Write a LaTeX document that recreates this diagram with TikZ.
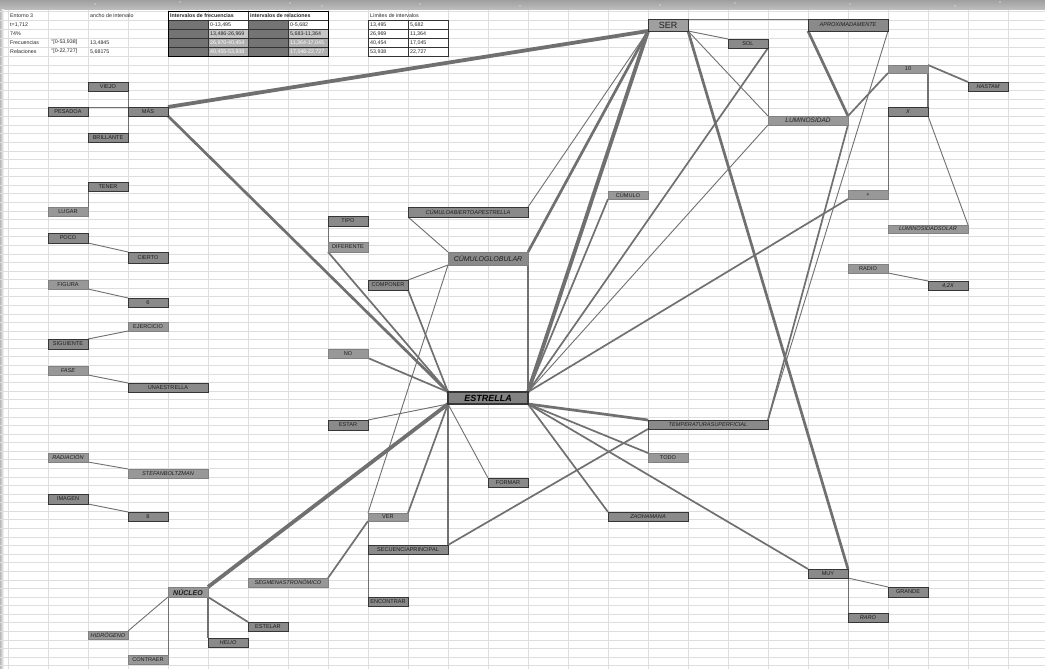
\documentclass[tikz,border=0pt]{standalone}
\usepackage{fontspec}
\setmainfont{Liberation Sans}
\definecolor{lc}{HTML}{707070}
\definecolor{bxf}{HTML}{8A8A8A}
\definecolor{bxl}{HTML}{989898}
\definecolor{bxd}{HTML}{363636}
\definecolor{tx}{HTML}{1E1E1E}
\definecolor{gridc}{HTML}{DEDEDE}
\definecolor{swc}{HTML}{747474}
\newcommand\bxfont{\fontsize{5.6}{5.8}\selectfont}
\newcommand\tbfont{\fontsize{5.3}{5.5}\selectfont}
\newcommand\bx[7]{\node[#6, minimum width={#4-#2}, minimum height={#5-#3}] (#1) at ({(#2+#4)/2},{(#3+#5)/2}) {#7};}
\newcommand\tcn[4]{\node[tcell,#4] (#1) at (#2) {#3};}
\pgfdeclarelayer{gridl}\pgfdeclarelayer{edgel}
\pgfsetlayers{gridl,edgel,main}
\tikzset{
  dk/.style={draw=bxd, line width=0.9pt, fill=bxf, inner sep=0pt, outer sep=0pt, font=\bxfont, text=tx, text depth=0pt},
  lt/.style={draw=bxl!85!black, line width=0.4pt, fill=bxl, inner sep=0pt, outer sep=0pt, font=\bxfont, text=tx, text depth=0pt},
  e1/.style={draw=lc, line width=0.9pt},
  e2/.style={draw=lc, line width=1.7pt},
  e3/.style={draw=lc, line width=2.7pt},
  e4/.style={draw=lc, line width=3.8pt},
  tcell/.style={anchor=west, inner sep=0pt, font=\tbfont, text=black!85},
}
\begin{document}
\begin{tikzpicture}[x=1pt,y=-1pt]
\useasboundingbox (0,0) rectangle (1045,669);
% ---------- background sheet ----------
\begin{pgfonlayer}{gridl}
\fill[white] (0,0) rectangle (1045,669);
\fill[top color=gray!75, bottom color=gray!50] (0,0) rectangle (1045,10);
\foreach \p in {(95,4),(290,3),(322,6),(520,6),(660,5),(735,3),(850,4),(955,6),(1000,2),(180,2),(420,4)}
  \fill[white] \p circle (0.7);
\fill[left color=gray!55, right color=white] (0,10) rectangle (4,669);
\foreach \i in {0,...,26} \draw[gridc,line width=0.5pt] ({8+40*\i},10) -- ({8+40*\i},669);
\foreach \y in {11,20,29,38,47,56} \draw[gridc,line width=0.5pt] (0,\y) -- (1045,\y);
\foreach \k in {0,...,70} \draw[gridc,line width=0.5pt] (0,{65+8.58*\k}) -- (1045,{65+8.58*\k});
\end{pgfonlayer}
% ---------- table ----------
\fill[swc] (168,20) rectangle (208,56);
\fill[swc] (248,20) rectangle (288,56);
\fill[white] (208,20) rectangle (248,29);
\fill[white] (288,20) rectangle (328,29);
\fill[gray!45] (208,29) rectangle (248,38);
\fill[gray!45] (288,29) rectangle (328,38);
\fill[gray!62] (208,38) rectangle (248,56);
\fill[gray!62] (288,38) rectangle (328,56);
\draw[black!80,line width=0.4pt] (168,20) -- (328,20) (168,29) -- (328,29) (168,38) -- (328,38) (168,47) -- (328,47)
  (208,20) -- (208,56) (248,11) -- (248,56) (288,20) -- (288,56);
\draw[black,line width=0.9pt] (168,11) rectangle (328,56);
\foreach \y in {20,29,38,47} \draw[black!80,line width=0.5pt] (368,\y) rectangle (448,{\y+9}) (408,\y) -- (408,{\y+9});
\tcn{ta1}{10,15.5}{Entorno 3}{}
\tcn{ta2}{10,24.5}{t=1,712}{}
\tcn{ta3}{10,33.5}{74\%}{}
\tcn{ta4}{10,42.5}{Frecuencias}{}
\tcn{ta5}{10,51.5}{Relaciones}{}
\tcn{tb4}{51,42.5}{°[0-53,938]}{}
\tcn{tb5}{51,51.5}{°[0-22,727]}{}
\tcn{tc1}{90,15.5}{ancho de intervalo}{}
\tcn{tc4}{90,42.5}{13,4845}{}
\tcn{tc5}{90,51.5}{5,68175}{}
\tcn{th1}{170,15.5}{\bfseries Intervalos de frecuencias}{}
\tcn{th2}{250,15.5}{\bfseries intervalos de relaciones}{}
\tcn{tf2}{210,24.5}{0-13,495}{}
\tcn{tf3}{210,33.5}{13,486-26,969}{}
\tcn{tf4}{210,42.5}{26,970-40,454}{text=white}
\tcn{tf5}{210,51.5}{40,455-53,938}{text=white}
\tcn{tr2}{290,24.5}{0-5,682}{}
\tcn{tr3}{290,33.5}{5,683-11,364}{}
\tcn{tr4}{290,42.5}{11,364-17,045}{text=white}
\tcn{tr5}{290,51.5}{17,046-22,727}{text=white}
\tcn{tl1}{370,15.5}{Límites de intervalos}{}
\tcn{tl2}{370,24.5}{13,495}{}
\tcn{tl3}{370,33.5}{26,969}{}
\tcn{tl4}{370,42.5}{40,454}{}
\tcn{tl5}{370,51.5}{53,938}{}
\tcn{tm2}{410,24.5}{5,682}{}
\tcn{tm3}{410,33.5}{11,364}{}
\tcn{tm4}{410,42.5}{17,045}{}
\tcn{tm5}{410,51.5}{22,727}{}
% ---------- nodes ----------
\bx{viejo}{88}{82}{128}{91}{dk}{VIEJO}
\bx{pesadoa}{48}{107}{88}{116}{dk}{PESADOA}
\bx{mas}{128}{107}{168}{116}{dk}{MÁS}
\bx{brillante}{88}{133}{128}{142}{dk}{BRILLANTE}
\bx{tener}{88}{182}{128}{191}{dk}{TENER}
\bx{lugar}{48}{207}{88}{216}{lt}{LUGAR}
\bx{poco}{48}{233}{88}{243}{dk}{POCO}
\bx{cierto}{128}{252}{168}{263}{dk}{CIERTO}
\bx{figura}{48}{280}{88}{289}{lt}{FIGURA}
\bx{seis}{128}{298}{168}{307}{dk}{6}
\bx{ejercicio}{128}{322}{168}{331}{lt}{EJERCICIO}
\bx{siguiente}{48}{339}{88}{349}{dk}{SIGUIENTE}
\bx{fase}{48}{366}{88}{375}{lt}{\itshape FASE}
\bx{unaestrella}{128}{383}{208}{392}{dk}{UNAESTRELLA}
\bx{radiacion}{48}{453}{88}{462}{lt}{\itshape RADIACIÓN}
\bx{stefan}{128}{469}{208}{478}{lt}{\itshape STEFANBOLTZMAN}
\bx{imagen}{48}{494}{88}{504}{dk}{IMAGEN}
\bx{ocho}{128}{512}{168}{521}{dk}{8}
\bx{nucleo}{168}{587}{208}{597}{lt,font={\fontsize{7}{7}\selectfont\bfseries\itshape}}{NÚCLEO}
\bx{hidrogeno}{88}{631}{128}{639}{lt}{\itshape HIDRÓGENO}
\bx{contraer}{128}{655}{168}{664}{lt}{CONTRAER}
\bx{helio}{208}{638}{248}{647}{dk}{\itshape HELIO}
\bx{estelar}{248}{622}{288}{631}{dk}{ESTELAR}
\bx{segmen}{248}{578}{328}{587}{lt}{\itshape SEGMENASTRONÓMICO}
\bx{encontrar}{368}{597}{408}{606}{dk}{ENCONTRAR}
\bx{ver}{368}{513}{408}{521}{lt}{VER}
\bx{secuencia}{368}{545}{448}{554}{dk}{SECUENCIAPRINCIPAL}
\bx{formar}{488}{478}{528}{487}{dk}{FORMAR}
\bx{estar}{328}{420}{368}{430}{dk}{ESTAR}
\bx{no}{328}{349}{368}{358}{lt}{NO}
\bx{tipo}{328}{216}{368}{226}{dk}{TIPO}
\bx{diferente}{328}{242}{368}{252}{lt}{DIFERENTE}
\bx{componer}{368}{280}{408}{290}{dk}{COMPONER}
\bx{cabierto}{408}{207}{528}{217}{dk}{\itshape CÚMULOABIERTOAPESTRELLA}
\bx{cglobular}{448}{252}{528}{265}{lt,fill=bxf,font={\fontsize{7}{7}\selectfont\itshape}}{CÚMULOGLOBULAR}
\bx{estrella}{448}{392}{528}{404}{dk,fill=gray!60!black!70,line width=1.1pt,font={\fontsize{9}{9}\selectfont\bfseries\itshape},text=black}{ESTRELLA}
\bx{cumulo}{608}{191}{648}{199}{lt}{CÚMULO}
\bx{zao}{608}{512}{688}{521}{dk}{\itshape ZAOHAMANA}
\bx{temp}{648}{420}{768}{429}{dk}{\itshape TEMPERATURASUPERFICIAL}
\bx{todo}{648}{453}{688}{462}{lt}{TODO}
\bx{muy}{808}{569}{848}{578}{dk}{MUY}
\bx{grande}{888}{587}{928}{597}{dk}{GRANDE}
\bx{raro}{848}{613}{888}{622}{dk}{\itshape RARO}
\bx{ser}{648}{19}{688}{31}{dk,fill=gray!75!black!60,font={\fontsize{9}{9}\selectfont}}{SER}
\bx{sol}{728}{39}{768}{48}{dk}{SOL}
\bx{aprox}{808}{19}{888}{31}{dk}{\itshape APROXIMADAMENTE}
\bx{diez}{888}{65}{928}{73}{lt}{10}
\bx{hastam}{968}{82}{1008}{91}{dk}{\itshape HASTAM}
\bx{equis}{888}{107}{928}{116}{dk}{\itshape X}
\bx{lumin}{768}{116}{848}{125}{lt,font={\fontsize{6.5}{6.5}\selectfont\itshape}}{LUMINOSIDAD}
\bx{masdos}{848}{190}{888}{199}{lt}{+}
\bx{lumsolar}{888}{225}{968}{233}{lt}{\itshape LUMINOSIDADSOLAR}
\bx{radio}{848}{264}{888}{273}{lt}{RADIO}
\bx{cuatro}{928}{281}{968}{290}{dk}{\itshape 4,2X}
% ---------- connectors ----------
\begin{pgfonlayer}{edgel}
\draw[e4] (mas.north east) -- (ser.south west);
\draw[e3] (mas.south east) -- (estrella.north west);
\draw[e1] (viejo.south east) -- (mas.north west);
\draw[e1] (pesadoa.north east) -- (mas.north west);
\draw[e1] (brillante.north east) -- (mas.south west);
\draw[e1] (tener.south west) -- (lugar.north east);
\draw[e1] (poco.south east) -- (cierto.north west);
\draw[e1] (figura.south east) -- (seis.north west);
\draw[e1] (siguiente.north east) -- (ejercicio.south west);
\draw[e1] (fase.south east) -- (unaestrella.north west);
\draw[e1] (radiacion.south east) -- (stefan.north west);
\draw[e1] (imagen.south east) -- (ocho.north west);
\draw[e4] (nucleo.north east) -- (estrella.south west);
\draw[e1] (nucleo.south west) -- (hidrogeno.north east);
\draw[e1] (nucleo.south west) -- (contraer.north east);
\draw[e2] (nucleo.south east) -- (helio.north west);
\draw[e2] (nucleo.south east) -- (estelar.north west);
\draw[e2] (segmen.north east) -- (ver.south west);
\draw[e1] (encontrar.north west) -- (ver.south west);
\draw[e1] (cglobular.south west) -- (ver.north west);
\draw[e2] (estrella.south west) -- (ver.north east);
\draw[e2] (estrella.south west) -- (secuencia.north east);
\draw[e1] (estrella.south west) -- (formar.north west);
\draw[e2] (secuencia.north east) -- (temp.south west);
\draw[e1] (tipo.south west) -- (diferente.north west);
\draw[e2] (diferente.south west) -- (estrella.north west);
\draw[e2] (componer.south east) -- (estrella.north west);
\draw[e1] (componer.north east) -- (cglobular.south west);
\draw[e1] (cabierto.south west) -- (cglobular.north west);
\draw[e2] (no.south east) -- (estrella.north west);
\draw[e1] (estar.north east) -- (estrella.south west);
\draw[e2] (cglobular.south east) -- (estrella.north east);
\draw[e3] (cglobular.north east) -- (ser.south west);
\draw[e1] (cabierto.north east) -- (ser.south west);
\draw[e4] (estrella.north east) -- (ser.south west);
\draw[e2] (estrella.north east) -- (cumulo.south west);
\draw[e2] (estrella.north east) -- (sol.south east);
\draw[e1] (estrella.north east) -- (lumin.south west);
\draw[e2] (estrella.north east) -- (masdos.south west);
\draw[e3] (estrella.south east) -- (temp.north west);
\draw[e2] (estrella.south east) -- (todo.north west);
\draw[e2] (estrella.south east) -- (muy.north west);
\draw[e2] (estrella.south east) -- (zao.north west);
\draw[e1] (temp.south west) -- (todo.north west);
\draw[e1] (muy.south east) -- (grande.north west);
\draw[e1] (muy.south east) -- (raro.north west);
\draw[e1] (ser.north east) -- (aprox.north west);
\draw[e1] (ser.south east) -- (sol.north west);
\draw[e1] (ser.south east) -- (lumin.north west);
\draw[e1] (sol.south east) -- (lumin.north west);
\draw[e3] (ser.south east) -- (muy.north east);
\draw[e3] (aprox.south west) -- (lumin.north east);
\draw[e1] (aprox.south east) -- (temp.north east);
\draw[e2] (lumin.south east) -- (temp.north east);
\draw[e2] (diez.south west) -- (lumin.north east);
\draw[e2] (diez.north east) -- (hastam.north west);
\draw[e2] (diez.south east) -- (equis.north east);
\draw[e1] (equis.south west) -- (masdos.north east);
\draw[e1] (equis.south east) -- (lumsolar.north east);
\draw[e1] (radio.south east) -- (cuatro.north west);
\end{pgfonlayer}
\end{tikzpicture}
\end{document}
